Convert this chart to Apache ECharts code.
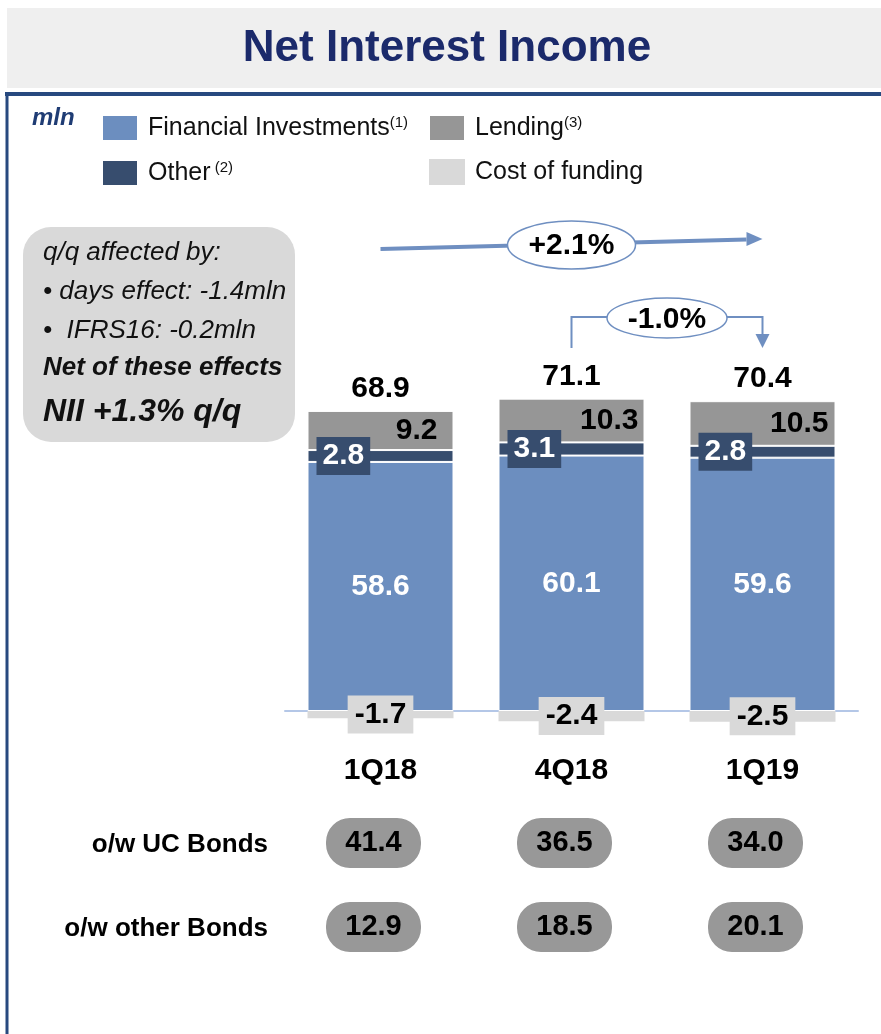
<!DOCTYPE html>
<html>
<head>
<meta charset="utf-8">
<title>Net Interest Income</title>
<script src="https://cdn.jsdelivr.net/npm/echarts@6/dist/echarts.min.js"></script>
<style>
  html, body { margin: 0; padding: 0; background: #fff; }
  #chart { width: 881px; height: 1034px; }
</style>
</head>
<body>
<div id="chart"></div>
<script>
  // data
  const categories = ['1Q18', '4Q18', '1Q19']
  const financialInvestments = [58.6, 60.1, 59.6]
  const other = [2.8, 3.1, 2.8]
  const lending = [9.2, 10.3, 10.5]
  const costOfFunding = [-1.7, -2.4, -2.5]
  const totals = [68.9, 71.1, 70.4]
  const bondRows = ['o/w UC Bonds', 'o/w other Bonds']
  const ucBonds = [41.4, 36.5, 34.0]
  const otherBonds = [12.9, 18.5, 20.1]

  const FONT = 'Liberation Sans, Arial, Helvetica, sans-serif'
  const BLUE = '#6c8ebf'
  const NAVY = '#374d6e'
  const GREY = '#969696'
  const LIGHT = '#d9d9d9'
  const ARROW = '#6f8fc1'

  // superscripts in the legend
  const sup = {
    'Financial Investments': '(1)',
    'Other': ' (2)',
    'Lending': '(3)'
  }
  // small nudges for the lending labels (right side of bar)
  const lendingShift = [-16, -6, -7]

  const chart = echarts.init(document.getElementById('chart'))

  const legendText = {
    fontFamily: FONT,
    fontSize: 25,
    lineHeight: 26,
    color: '#111',
    padding: [0, 0, 0, 5],
    rich: {
      sup: { fontFamily: FONT, fontSize: 15, lineHeight: 15, padding: [0, 0, 10, 0], color: '#111' }
    }
  }
  const legendBase = {
    orient: 'vertical',
    top: 114,
    padding: 0,
    itemWidth: 36,
    itemHeight: 26,
    itemGap: 17,
    icon: 'rect',
    selectedMode: false,
    textStyle: legendText,
    formatter: name => name + (sup[name] ? '{sup|' + sup[name] + '}' : '')
  }

  const boldLabel = {
    show: true,
    fontFamily: FONT,
    fontSize: 30,
    fontWeight: 'bold'
  }

  const bubblePath = 'path://M24,0H71A24,24 0 0 1 95,24V26A24,24 0 0 1 71,50H24A24,24 0 0 1 0,26V24A24,24 0 0 1 24,0Z'

  function bondSeries(name, values, row) {
    return {
      name: name,
      type: 'scatter',
      xAxisIndex: 1,
      yAxisIndex: 1,
      symbol: bubblePath,
      symbolSize: [95, 50],
      symbolOffset: [-7, -2],
      itemStyle: { color: '#989898', opacity: 1 },
      label: Object.assign({}, boldLabel, {
        position: 'inside',
        fontSize: 29,
        color: '#000',
        formatter: p => p.value[2].toFixed(1)
      }),
      data: values.map((v, i) => [i, row, v])
    }
  }

  chart.setOption({
    animation: false,
    textStyle: { fontFamily: FONT },
    legend: [
      Object.assign({}, legendBase, { left: 101, data: ['Financial Investments', 'Other'] }),
      Object.assign({}, legendBase, { left: 428, data: ['Lending', 'Cost of funding'] })
    ],
    grid: [
      { left: 285, width: 573, top: 286, height: 467.5 },
      { left: 285, width: 573, top: 803, height: 168 }
    ],
    xAxis: [
      {
        type: 'category',
        gridIndex: 0,
        data: categories,
        axisLine: { onZero: true, lineStyle: { color: '#b4c7e7', width: 2 } },
        axisTick: { show: false },
        axisLabel: {
          margin: 2,
          fontFamily: FONT,
          fontSize: 30,
          fontWeight: 'bold',
          color: '#000'
        }
      },
      { type: 'category', gridIndex: 1, data: categories, show: false }
    ],
    yAxis: [
      { type: 'value', gridIndex: 0, min: -10, max: 100, show: false },
      {
        type: 'category',
        gridIndex: 1,
        data: bondRows,
        inverse: true,
        axisLine: { show: false },
        axisTick: { show: false },
        splitLine: { show: false },
        axisLabel: {
          margin: 17,
          fontFamily: FONT,
          fontSize: 26,
          fontWeight: 'bold',
          color: '#000'
        }
      }
    ],
    series: [
      {
        name: 'Financial Investments',
        type: 'bar',
        stack: 'nii',
        barWidth: 146,
        itemStyle: { color: BLUE, borderColor: '#fff', borderWidth: 1 },
        label: Object.assign({}, boldLabel, { position: 'inside', color: '#fff' }),
        data: financialInvestments
      },
      {
        name: 'Other',
        type: 'bar',
        stack: 'nii',
        itemStyle: { color: NAVY, borderColor: '#fff', borderWidth: 1 },
        label: Object.assign({}, boldLabel, {
          position: 'insideLeft',
          distance: 9,
          color: '#fff',
          backgroundColor: NAVY,
          padding: [4, 6]
        }),
        data: other
      },
      {
        name: 'Lending',
        type: 'bar',
        stack: 'nii',
        itemStyle: { color: GREY, borderColor: '#fff', borderWidth: 1 },
        label: Object.assign({}, boldLabel, { position: 'insideRight', distance: 0, color: '#000' }),
        data: lending.map((v, i) => ({ value: v, label: { offset: [lendingShift[i], 0] } }))
      },
      {
        name: 'Cost of funding',
        type: 'bar',
        stack: 'nii',
        itemStyle: { color: LIGHT },
        label: Object.assign({}, boldLabel, {
          position: 'inside',
          color: '#000',
          backgroundColor: LIGHT,
          padding: [4, 7]
        }),
        data: costOfFunding
      },
      {
        // totals sit on top of the positive stack
        name: 'Total',
        type: 'scatter',
        symbolSize: 0,
        z: 5,
        itemStyle: { opacity: 1 },
        label: Object.assign({}, boldLabel, {
          position: 'top',
          distance: 7,
          color: '#000',
          formatter: p => totals[p.dataIndex].toFixed(1)
        }),
        data: categories.map((c, i) => financialInvestments[i] + other[i] + lending[i])
      },
      bondSeries('UC Bonds', ucBonds, 0),
      bondSeries('Other Bonds', otherBonds, 1)
    ]
  })

  // annotations, anchored on the category centres
  const cx = categories.map(c => chart.convertToPixel({ xAxisIndex: 0 }, c))

  const txt = (x, y, text, style) => ({
    type: 'text',
    x: x,
    y: y,
    style: Object.assign({
      text: text,
      fontFamily: FONT,
      fontSize: 26,
      fill: '#111',
      verticalAlign: 'middle'
    }, style)
  })

  chart.setOption({
    graphic: [
      // title band
      { type: 'rect', shape: { x: 7, y: 8, width: 874, height: 80 }, style: { fill: '#efefef' } },
      txt(447, 49, 'Net Interest Income', { fontSize: 44, fontWeight: 'bold', fill: '#1b2a6b', align: 'center' }),
      // frame
      { type: 'line', shape: { x1: 5, y1: 94, x2: 881, y2: 94 }, style: { stroke: '#27497f', lineWidth: 4 } },
      { type: 'line', shape: { x1: 7, y1: 92, x2: 7, y2: 1034 }, style: { stroke: '#27497f', lineWidth: 3 } },
      txt(32, 118, 'mln', { fontSize: 24, fontWeight: 'bold', fontStyle: 'italic', fill: '#1f3c74' }),

      // q/q note box
      { type: 'rect', shape: { x: 23, y: 227, width: 272, height: 215, r: 28 }, style: { fill: '#d9d9d9' } },
      txt(43, 253, 'q/q affected by:', { fontStyle: 'italic' }),
      txt(43, 292, '• days effect: -1.4mln', { fontStyle: 'italic' }),
      txt(43, 331, '•  IFRS16: -0.2mln', { fontStyle: 'italic' }),
      txt(43, 368, 'Net of these effects', { fontStyle: 'italic', fontWeight: 'bold' }),
      txt(43, 412, 'NII +1.3% q/q', { fontStyle: 'italic', fontWeight: 'bold', fontSize: 32 }),

      // +2.1% arrow 1Q18 -> 1Q19
      { type: 'line', shape: { x1: cx[0], y1: 249, x2: cx[2] - 16, y2: 239.5 }, style: { stroke: ARROW, lineWidth: 4 } },
      { type: 'polygon', shape: { points: [[cx[2], 239], [cx[2] - 16, 232], [cx[2] - 16, 246]] }, style: { fill: ARROW } },
      { type: 'ellipse', shape: { cx: cx[1], cy: 245, rx: 64, ry: 24 }, style: { fill: '#fff', stroke: ARROW, lineWidth: 1.5 } },
      txt(cx[1], 246, '+2.1%', { fontSize: 30, fontWeight: 'bold', fill: '#000', align: 'center' }),

      // -1.0% bracket 4Q18 -> 1Q19
      {
        type: 'polyline',
        shape: { points: [[cx[1], 348], [cx[1], 317], [cx[2], 317], [cx[2], 336]] },
        style: { stroke: ARROW, lineWidth: 2, fill: null }
      },
      { type: 'polygon', shape: { points: [[cx[2], 348], [cx[2] - 7, 334], [cx[2] + 7, 334]] }, style: { fill: ARROW } },
      { type: 'ellipse', shape: { cx: (cx[1] + cx[2]) / 2, cy: 318, rx: 60, ry: 20 }, style: { fill: '#fff', stroke: ARROW, lineWidth: 1.5 } },
      txt((cx[1] + cx[2]) / 2, 320, '-1.0%', { fontSize: 30, fontWeight: 'bold', fill: '#000', align: 'center' })
    ]
  })
</script>
</body>
</html>
